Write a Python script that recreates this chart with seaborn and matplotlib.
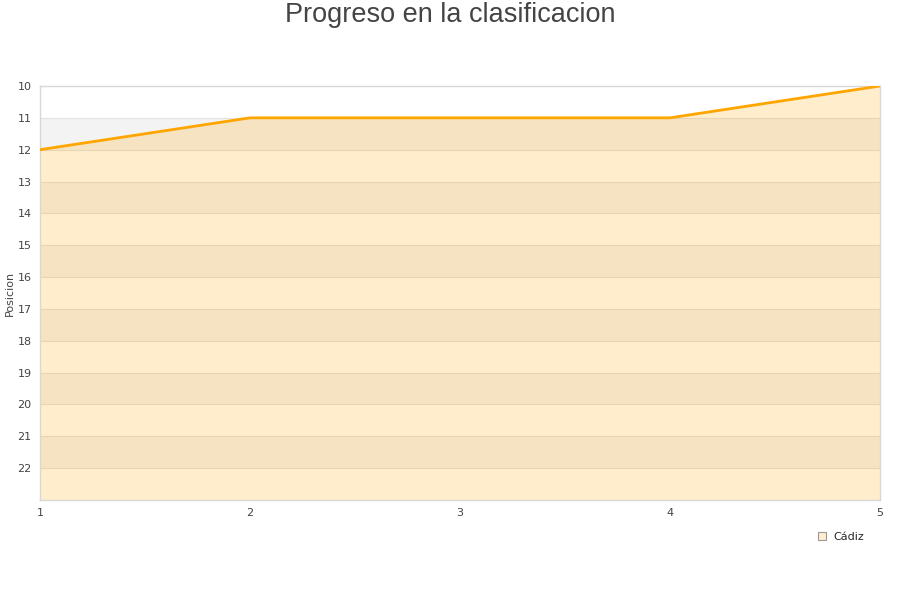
import matplotlib
matplotlib.use("Agg")
import matplotlib.pyplot as plt
import seaborn as sns
import pandas as pd

jornadas = [1, 2, 3, 4, 5]
posiciones = [12, 11, 11, 11, 10]
equipo = "Cádiz"
y_ticks = list(range(10, 23))

sns.set_style("white")
plt.rcParams['font.family'] = ['DejaVu Sans']

df = pd.DataFrame({"Jornada": jornadas, "Posicion": posiciones})

fig = plt.figure(figsize=(9, 6), dpi=100)
ax = fig.add_axes([40/900, 100/600, 840/900, 414/600])

ymin, ymax = 10, 23
# alternating bands
for i, y in enumerate(range(ymin, ymax)):
    if i % 2 == 1:
        ax.axhspan(y, y + 1, color="#f3f3f3", zorder=0, lw=0)
for y in range(ymin + 1, ymax):
    ax.axhline(y, color="#e2e2e2", lw=0.8, zorder=0.5)

ax.fill_between(df["Jornada"], df["Posicion"], ymax, color="orange", alpha=0.2, lw=0, zorder=1)
sns.lineplot(data=df, x="Jornada", y="Posicion", ax=ax, color="orange", lw=2, zorder=3)

ax.set_xlim(1, 5)
ax.set_ylim(ymax, ymin)
ax.set_yticks(y_ticks)
ax.set_xticks(jornadas)
ax.tick_params(axis="both", labelsize=8, colors="#444444", length=0, pad=6)
ax.set_xlabel("")
ax.set_ylabel("Posicion", fontsize=8, color="#444444", labelpad=2)
for s in ax.spines.values():
    s.set_color("#d8d8d8")
    s.set_linewidth(1)

fig.text(0.5, 1 - 15/600, "Progreso en la clasificacion", fontsize=19.5, color="#444444",
         ha="center", va="center", family=["Liberation Sans", "DejaVu Sans"])

h = plt.Line2D([], [], marker="s", color="none", markerfacecolor="#ffedcc",
               markeredgecolor="#999999", markersize=6, markeredgewidth=0.8)
fig.legend([h], [equipo], loc="center", bbox_to_anchor=(840/900, 1 - 537/600),
           frameon=False, fontsize=8, handletextpad=0.5, handlelength=1)

fig.savefig("out.png", dpi=100)
